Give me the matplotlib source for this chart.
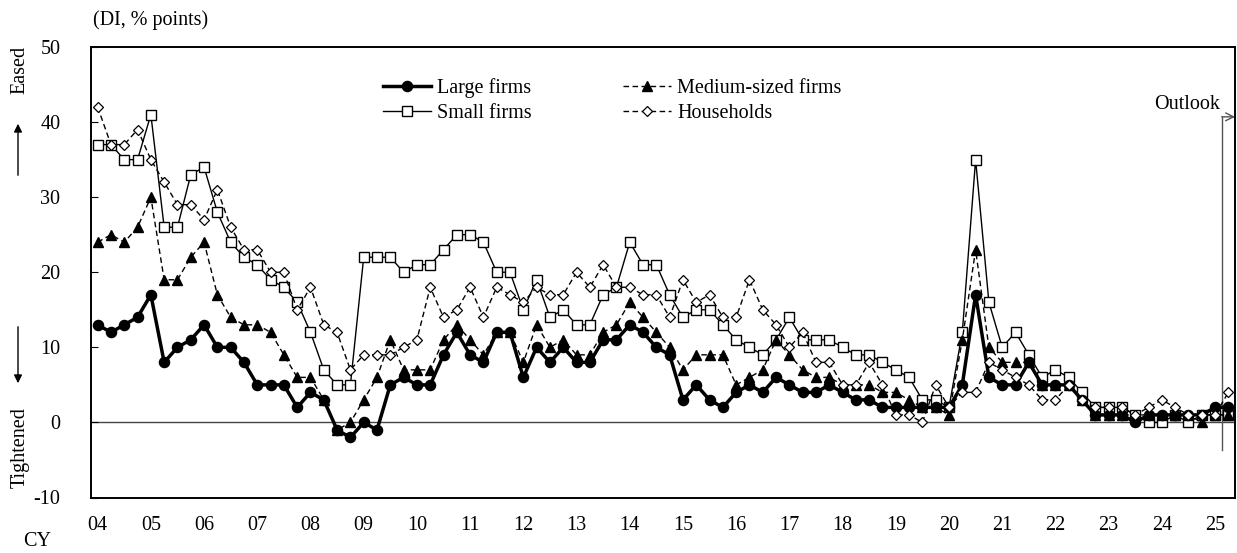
import matplotlib
matplotlib.use("Agg")
import matplotlib.pyplot as plt
import numpy as np

# ---- data (quarterly surveys, 2004 Q1 .. 2025 Q2; last point = outlook) ----
year_labels = ["04", "05", "06", "07", "08", "09", "10", "11", "12", "13", "14",
               "15", "16", "17", "18", "19", "20", "21", "22", "23", "24", "25"]

large_firms = [13, 12, 13, 14, 17, 8, 10, 11, 13, 10, 10, 8, 5, 5, 5, 2,
               4, 3, -1, -2, 0, -1, 5, 6, 5, 5, 9, 12, 9, 8, 12, 12,
               6, 10, 8, 10, 8, 8, 11, 11, 13, 12, 10, 9, 3, 5, 3, 2,
               4, 5, 4, 6, 5, 4, 4, 5, 4, 3, 3, 2, 2, 2, 2, 2,
               2, 5, 17, 6, 5, 5, 8, 5, 5, 5, 3, 1, 1, 1, 0, 1,
               1, 1, 1, 1, 2, 2]

medium_firms = [24, 25, 24, 26, 30, 19, 19, 22, 24, 17, 14, 13, 13, 12, 9, 6,
                6, 3, -1, 0, 3, 6, 11, 7, 7, 7, 11, 13, 11, 9, 12, 12,
                8, 13, 10, 11, 9, 9, 12, 13, 16, 14, 12, 10, 7, 9, 9, 9,
                5, 6, 7, 11, 9, 7, 6, 6, 5, 5, 5, 4, 4, 3, 2, 2,
                1, 11, 23, 10, 8, 8, 8, 5, 5, 5, 3, 1, 1, 1, 1, 1,
                1, 1, 1, 0, 1, 1]

small_firms = [37, 37, 35, 35, 41, 26, 26, 33, 34, 28, 24, 22, 21, 19, 18, 16,
               12, 7, 5, 5, 22, 22, 22, 20, 21, 21, 23, 25, 25, 24, 20, 20,
               15, 19, 14, 15, 13, 13, 17, 18, 24, 21, 21, 17, 14, 15, 15, 13,
               11, 10, 9, 11, 14, 11, 11, 11, 10, 9, 9, 8, 7, 6, 3, 3,
               2, 12, 35, 16, 10, 12, 9, 6, 7, 6, 4, 2, 2, 2, 1, 0,
               0, 1, 0, 1, 1, 1]

households = [42, 37, 37, 39, 35, 32, 29, 29, 27, 31, 26, 23, 23, 20, 20, 15,
              18, 13, 12, 7, 9, 9, 9, 10, 11, 18, 14, 15, 18, 14, 18, 17,
              16, 18, 17, 17, 20, 18, 21, 18, 18, 17, 17, 14, 19, 16, 17, 14,
              14, 19, 15, 13, 10, 12, 8, 8, 5, 5, 8, 5, 1, 1, 0, 5,
              2, 4, 4, 8, 7, 6, 5, 3, 3, 5, 3, 2, 2, 2, 1, 2,
              3, 2, 1, 1, 1, 4]

FONT = ["Liberation Serif", "DejaVu Serif"]
plt.rcParams["font.family"] = FONT
plt.rcParams["font.size"] = 14.5
plt.rcParams["axes.unicode_minus"] = False

W, H = 1237, 553
fig = plt.figure(figsize=(W / 100, H / 100), dpi=100)
ax = fig.add_axes([91 / W, 1 - 497.5 / H, (1235 - 91) / W, (497.5 - 47) / H])

x = np.arange(len(large_firms))

l_small, = ax.plot(x, small_firms, color="black", lw=1.0, ls="-",
                   marker="s", ms=7.5, mfc="white", mec="black", mew=1.0,
                   label="Small firms", zorder=3)
l_large, = ax.plot(x, large_firms, color="black", lw=2.5, ls="-",
                   marker="o", ms=7.3, mfc="black", mec="black",
                   label="Large firms", zorder=4)
l_med, = ax.plot(x, medium_firms, color="black", lw=1.0, ls=(0, (4, 2.5)),
                 marker="^", ms=7.3, mfc="black", mec="black",
                 label="Medium-sized firms", zorder=5)
l_hh, = ax.plot(x, households, color="black", lw=1.0, ls=(0, (4, 2.5)),
                marker="D", ms=4.6, mfc="white", mec="black", mew=0.9,
                label="Households", zorder=6)

ax.axhline(0, color="#444444", lw=1.0, zorder=1)

ax.set_xlim(-0.5, len(large_firms) - 0.5)
ax.set_ylim(-10, 50)
ax.set_yticks(np.arange(-10, 51, 10))
ax.set_xticks(np.arange(0, len(year_labels) * 4, 4))
ax.set_xticklabels(year_labels)
ax.tick_params(axis="y", direction="in", length=5, width=0.8, pad=22)
ax.tick_params(axis="x", length=0, pad=13)
for s in ax.spines.values():
    s.set_linewidth(1.4)
    s.set_color("black")

# Outlook marker
xo = len(large_firms) - 1.5
ax.plot([xo, xo], [40.7, -3.7], color="#555555", lw=1.0, clip_on=False, zorder=2)
ax.annotate("", xy=(len(large_firms) - 0.5, 40.7), xytext=(xo, 40.7),
            arrowprops=dict(arrowstyle="->", color="#555555", lw=1.0,
                            shrinkA=0, shrinkB=0, mutation_scale=14),
            annotation_clip=False)
ax.text(xo - 0.1, 42.3, "Outlook", ha="right", va="center")

# legend
leg = ax.legend(handles=[l_large, l_small, l_med, l_hh], ncol=2,
                loc="upper left", bbox_to_anchor=(383 / W, 1 - 78 / H),
                bbox_transform=fig.transFigure, frameon=False, borderpad=0,
                borderaxespad=0, handlelength=2.4, handletextpad=0.3,
                columnspacing=4.5, labelspacing=0.28, numpoints=1)

# annotations outside axes
fig.text(93 / W, 1 - 20 / H, "(DI, % points)", ha="left", va="center")
fig.text(37 / W, 1 - 542 / H, "CY", ha="center", va="center")
fig.text(20 / W, 1 - 70 / H, "Eased", rotation=90, ha="center", va="center")
fig.text(20 / W, 1 - 448 / H, "Tightened", rotation=90, ha="center", va="center")
fig.add_artist(matplotlib.patches.FancyArrowPatch(
    (18 / W, 1 - 178 / H), (18 / W, 1 - 121 / H), transform=fig.transFigure,
    arrowstyle="-|>", mutation_scale=12, color="black", lw=1.0))
fig.add_artist(matplotlib.patches.FancyArrowPatch(
    (18 / W, 1 - 324 / H), (18 / W, 1 - 386 / H), transform=fig.transFigure,
    arrowstyle="-|>", mutation_scale=12, color="black", lw=1.0))

fig.savefig("out.png", dpi=100)
